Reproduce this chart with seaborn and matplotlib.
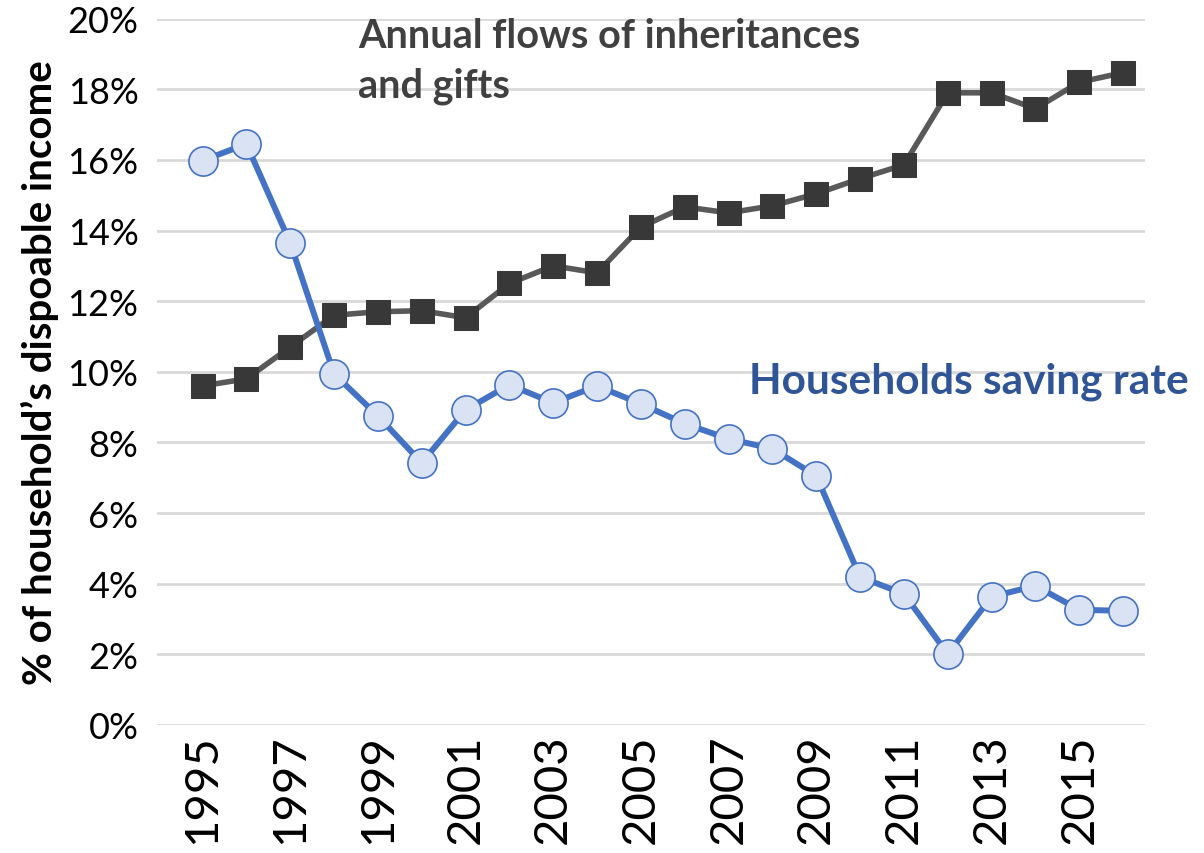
import matplotlib
matplotlib.use("Agg")
import matplotlib.pyplot as plt
import seaborn as sns
import pandas as pd
from matplotlib.ticker import FuncFormatter, MultipleLocator

years = list(range(1995, 2017))
inheritances = [9.6, 9.8, 10.7, 11.6, 11.7, 11.73, 11.53, 12.5, 13.0, 12.8, 14.1,
                14.67, 14.5, 14.7, 15.04, 15.47, 15.86, 17.9, 17.9, 17.45, 18.2, 18.47]
saving = [15.98, 16.45, 13.65, 9.94, 8.75, 7.42, 8.92, 9.63, 9.12, 9.6, 9.09,
          8.53, 8.1, 7.82, 7.05, 4.19, 3.71, 2.01, 3.63, 3.94, 3.26, 3.23]
year_ticks = list(range(1995, 2017, 2))
ylabel = "% of household\u2019s dispoable income"
label_inh = "Annual flows of inheritances\nand gifts"
label_sav = "Households saving rate"

sns.set_style("white")
plt.rcParams['font.family'] = ['Lato', 'DejaVu Sans']

df_inh = pd.DataFrame({"year": years, "value": inheritances})
df_sav = pd.DataFrame({"year": years, "value": saving})

fig = plt.figure(figsize=(12.04, 8.54), dpi=100)
ax = fig.add_axes([0.130, 0.150, 0.821, 0.827])

sns.lineplot(data=df_inh, x="year", y="value", ax=ax, color="#595959", lw=4,
             marker="s", markersize=17, markerfacecolor="#383838",
             markeredgecolor="#383838", zorder=3)
sns.lineplot(data=df_sav, x="year", y="value", ax=ax, color="#4472C4", lw=4.3,
             marker="o", markersize=21, markerfacecolor="#DAE3F3",
             markeredgecolor="#4472C4", markeredgewidth=1.2, zorder=4)

ax.set_ylim(0, 20)
ax.set_xlim(1993.95, 2016.5)
ax.yaxis.set_major_locator(MultipleLocator(2))
ax.yaxis.set_major_formatter(FuncFormatter(lambda v, p: f"{v:.0f}%"))
ax.set_xticks(year_ticks)
ax.set_xticklabels([str(y) for y in year_ticks], rotation=90, fontsize=34)
ax.tick_params(axis="y", labelsize=26, length=0, pad=13, labelcolor="black")
ax.tick_params(axis="x", length=0, pad=6, labelcolor="black")
ax.grid(axis="y", color="#D9D9D9", lw=2)
ax.set_axisbelow(True)
for s in ax.spines.values():
    s.set_visible(False)
ax.set_xlabel("")
ax.set_ylabel(ylabel, fontsize=29, fontweight="bold", labelpad=6, color="black")

ax.text(1998.55, 20.05, label_inh, fontsize=28.5, fontweight="bold", color="#404040",
        ha="left", va="top", linespacing=1.42, clip_on=False)
ax.text(2017.5, 9.75, label_sav, fontsize=30.5, fontweight="bold", color="#2F5597",
        ha="right", va="center", clip_on=False)

fig.savefig("out.png", dpi=100)
